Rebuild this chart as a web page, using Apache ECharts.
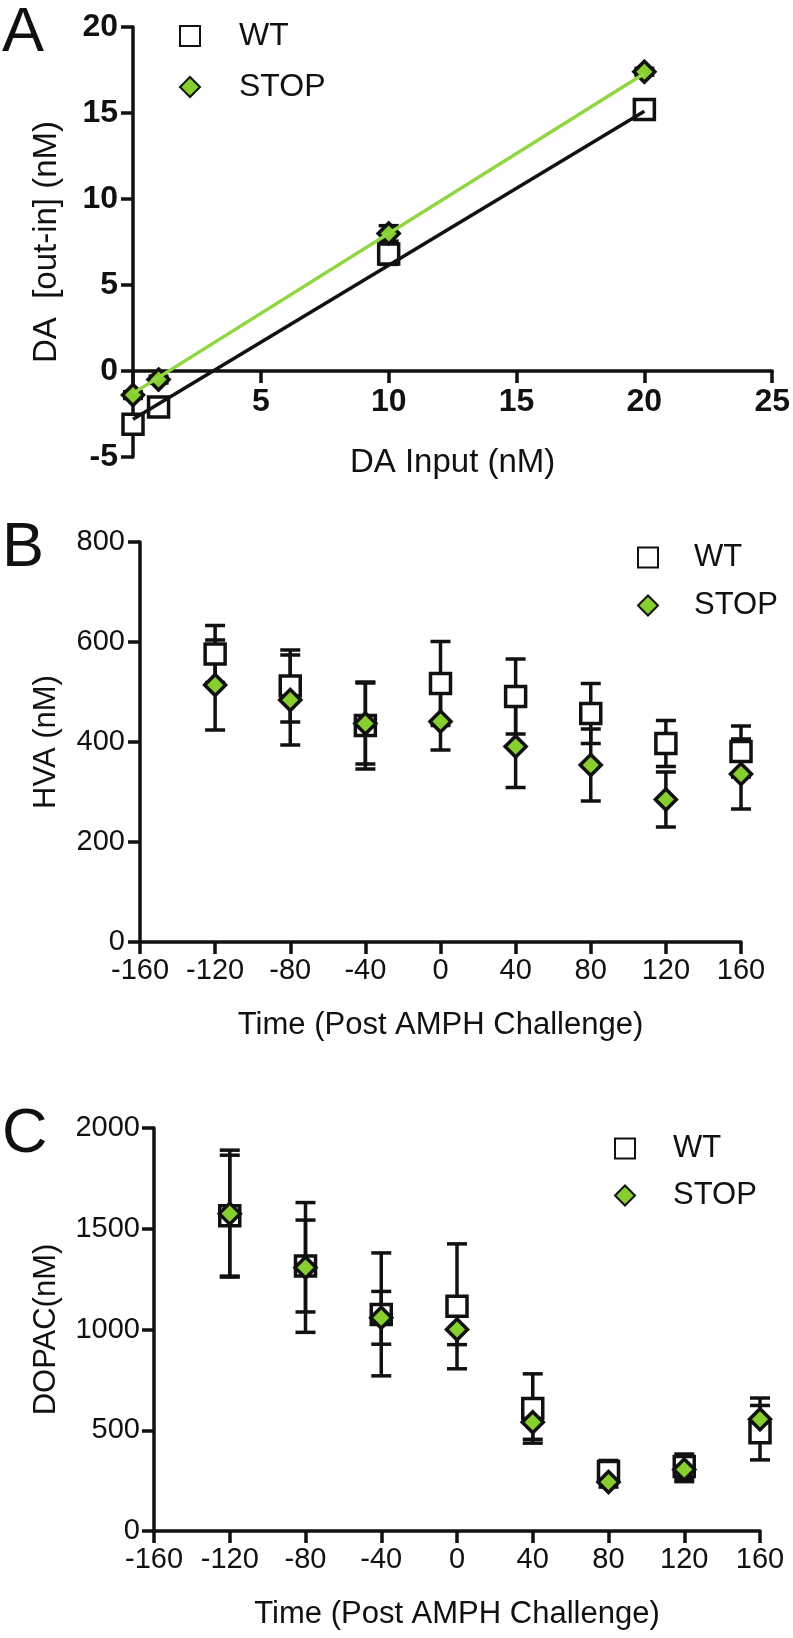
<!DOCTYPE html>
<html>
<head>
<meta charset="utf-8">
<script src="https://cdn.jsdelivr.net/npm/echarts@6/dist/echarts.min.js"></script>
<style>
html,body{margin:0;padding:0;background:#fff;}
#main{width:793px;height:1638px;}
</style>
</head>
<body>
<div id="main"></div>
<script>
// ---------- Panel A data ----------
const daInput = [0, 1, 10, 20];
const aWT = [-3.1, -2.1, 6.8, 15.2];
const aWTErr = [0.3, 0.2, 0.6, 0.4];
const aSTOP = [-1.4, -0.5, 8.0, 17.4];
const aSTOPErr = [0.2, 0.2, 0.45, 0.2];
const aWTFit = [[0, -2.8], [20, 15.1]];
const aSTOPFit = [[0, -1.3], [20, 17.3]];

// ---------- Panel B/C time axis ----------
const times = [-120, -80, -40, 0, 40, 80, 120, 160];

// ---------- Panel B data (HVA) ----------
const hvaWT = [576, 512, 433, 517, 491, 457, 397, 381];
const hvaWTErr = [57, 72, 87, 84, 75, 60, 46, 51];
const hvaSTOP = [514, 484, 437, 441, 391, 354, 285, 336];
const hvaSTOPErr = [90, 90, 81, 57, 82, 72, 55, 70];

// ---------- Panel C data (DOPAC) ----------
const dopacWT = [1565, 1315, 1075, 1115, 608, 295, 320, 488];
const dopacWTErr = [300, 228, 305, 310, 172, 55, 62, 135];
const dopacSTOP = [1575, 1308, 1058, 1000, 540, 243, 305, 555];
const dopacSTOPErr = [315, 322, 131, 75, 85, 25, 60, 105];

const FONT = "'Liberation Sans', Arial, Helvetica, sans-serif";
const INK = '#111';
const GREEN = '#86CF2E';
const GREEN_LINE = '#8FD63F';

// panel A layout
const A_H = 430, A_YMIN = -5, A_YMAX = 20;
const A_ZERO_OFFSET = -A_H * (0 - A_YMIN) / (A_YMAX - A_YMIN);

function pts(xs, ys) { return xs.map((x, i) => [x, ys[i]]); }
function errData(xs, ys, es) { return xs.map((x, i) => [x, ys[i] - es[i], ys[i] + es[i]]); }

function errSeries(idx, data) {
  return {
    type: 'custom',
    xAxisIndex: idx, yAxisIndex: idx,
    silent: true,
    data: data,
    renderItem: function (params, api) {
      const x = api.value(0);
      const lo = api.coord([x, api.value(1)]);
      const hi = api.coord([x, api.value(2)]);
      const w = 10;
      const st = { stroke: INK, lineWidth: 3.5, lineCap: 'butt' };
      return {
        type: 'group',
        children: [
          { type: 'line', shape: { x1: lo[0], y1: lo[1], x2: hi[0], y2: hi[1] }, style: st },
          { type: 'line', shape: { x1: hi[0] - w, y1: hi[1], x2: hi[0] + w, y2: hi[1] }, style: st },
          { type: 'line', shape: { x1: lo[0] - w, y1: lo[1], x2: lo[0] + w, y2: lo[1] }, style: st }
        ]
      };
    }
  };
}

function wtScatter(idx, data) {
  return {
    name: 'WT', type: 'scatter', xAxisIndex: idx, yAxisIndex: idx,
    symbol: 'rect', symbolSize: 20, data: data, clip: false,
    itemStyle: { color: '#fff', borderColor: INK, borderWidth: 3.5, opacity: 1 }
  };
}
function stopScatter(idx, data) {
  return {
    name: 'STOP', type: 'scatter', xAxisIndex: idx, yAxisIndex: idx,
    symbol: 'diamond', symbolSize: [21, 21], data: data, clip: false,
    itemStyle: { color: GREEN, borderColor: INK, borderWidth: 3.5, opacity: 1 }
  };
}

const axisLine = { show: true, onZero: false, lineStyle: { color: INK, width: 3.5 } };
const axisTick = { show: true, inside: false, length: 12, lineStyle: { color: INK, width: 3.5 } };
const plain = v => String(v);

function legendAt(left, top, gap, size, pad) {
  return {
    left: left, top: top, orient: 'vertical',
    itemWidth: 20, itemHeight: 20, itemGap: gap,
    selectedMode: false,
    data: ['WT', 'STOP'],
    textStyle: { fontFamily: FONT, fontSize: size, color: INK, padding: [0, 0, 0, pad] }
  };
}

const chart = echarts.init(document.getElementById('main'), null, { renderer: 'canvas' });

const option = {
  backgroundColor: '#fff',
  animation: false,
  grid: [
    { left: 133, top: 27, width: 640, height: A_H },
    { left: 140, top: 542, width: 601, height: 400 },
    { left: 154, top: 1128, width: 606, height: 403 }
  ],
  xAxis: [
    {
      gridIndex: 0, type: 'value', min: 0, max: 25, interval: 5, offset: A_ZERO_OFFSET,
      axisLine: axisLine, axisTick: axisTick, splitLine: { show: false },
      axisLabel: { fontFamily: FONT, fontSize: 32, fontWeight: 'bold', color: INK, margin: 15,
        formatter: v => (v === 0 ? '' : String(v)) },
      name: 'DA Input (nM)', nameLocation: 'middle', nameGap: 75,
      nameTextStyle: { fontFamily: FONT, fontSize: 33, color: INK }
    },
    {
      gridIndex: 1, type: 'value', min: -160, max: 160, interval: 40,
      axisLine: axisLine, axisTick: axisTick, splitLine: { show: false },
      axisLabel: { fontFamily: FONT, fontSize: 29, color: INK, margin: 14, formatter: plain },
      name: 'Time (Post AMPH Challenge)', nameLocation: 'middle', nameGap: 68,
      nameTextStyle: { fontFamily: FONT, fontSize: 31, color: INK }
    },
    {
      gridIndex: 2, type: 'value', min: -160, max: 160, interval: 40,
      axisLine: axisLine, axisTick: axisTick, splitLine: { show: false },
      axisLabel: { fontFamily: FONT, fontSize: 29, color: INK, margin: 14, formatter: plain },
      name: 'Time (Post AMPH Challenge)', nameLocation: 'middle', nameGap: 68,
      nameTextStyle: { fontFamily: FONT, fontSize: 31, color: INK }
    }
  ],
  yAxis: [
    {
      gridIndex: 0, type: 'value', min: A_YMIN, max: A_YMAX, interval: 5,
      axisLine: axisLine, axisTick: axisTick, splitLine: { show: false },
      axisLabel: { fontFamily: FONT, fontSize: 32, fontWeight: 'bold', color: INK, margin: 15, formatter: plain },
      name: 'DA  [out-in] (nM)', nameLocation: 'middle', nameGap: 70, nameRotate: 90,
      nameTextStyle: { fontFamily: FONT, fontSize: 33, color: INK }
    },
    {
      gridIndex: 1, type: 'value', min: 0, max: 800, interval: 200,
      axisLine: axisLine, axisTick: axisTick, splitLine: { show: false },
      axisLabel: { fontFamily: FONT, fontSize: 29, color: INK, margin: 15, formatter: plain },
      name: 'HVA (nM)', nameLocation: 'middle', nameGap: 78, nameRotate: 90,
      nameTextStyle: { fontFamily: FONT, fontSize: 31, color: INK }
    },
    {
      gridIndex: 2, type: 'value', min: 0, max: 2000, interval: 500,
      axisLine: axisLine, axisTick: axisTick, splitLine: { show: false },
      axisLabel: { fontFamily: FONT, fontSize: 29, color: INK, margin: 14, formatter: plain },
      name: 'DOPAC(nM)', nameLocation: 'middle', nameGap: 92, nameRotate: 90,
      nameTextStyle: { fontFamily: FONT, fontSize: 31, color: INK }
    }
  ],
  legend: [
    legendAt(174, 15, 19, 32, 34),
    legendAt(632, 537, 17, 31, 31),
    legendAt(609, 1128, 16, 31, 33)
  ],
  graphic: [
    { type: 'text', left: 2, top: 2, style: { text: 'A', font: '63px ' + FONT, fill: INK } },
    { type: 'text', left: 2, top: 517, style: { text: 'B', font: '63px ' + FONT, fill: INK } },
    { type: 'text', left: 2, top: 1103, style: { text: 'C', font: '63px ' + FONT, fill: INK } }
  ],
  series: [
    // Panel A
    { type: 'line', xAxisIndex: 0, yAxisIndex: 0, data: aWTFit, symbol: 'none', silent: true,
      lineStyle: { color: INK, width: 3.5 } },
    { type: 'line', xAxisIndex: 0, yAxisIndex: 0, data: aSTOPFit, symbol: 'none', silent: true,
      lineStyle: { color: GREEN_LINE, width: 3.5 } },
    errSeries(0, errData(daInput, aWT, aWTErr)),
    wtScatter(0, pts(daInput, aWT)),
    errSeries(0, errData(daInput, aSTOP, aSTOPErr)),
    stopScatter(0, pts(daInput, aSTOP)),
    // Panel B
    errSeries(1, errData(times, hvaWT, hvaWTErr)),
    wtScatter(1, pts(times, hvaWT)),
    errSeries(1, errData(times, hvaSTOP, hvaSTOPErr)),
    stopScatter(1, pts(times, hvaSTOP)),
    // Panel C
    errSeries(2, errData(times, dopacWT, dopacWTErr)),
    wtScatter(2, pts(times, dopacWT)),
    errSeries(2, errData(times, dopacSTOP, dopacSTOPErr)),
    stopScatter(2, pts(times, dopacSTOP))
  ]
};
chart.setOption(option);
</script>
</body>
</html>
